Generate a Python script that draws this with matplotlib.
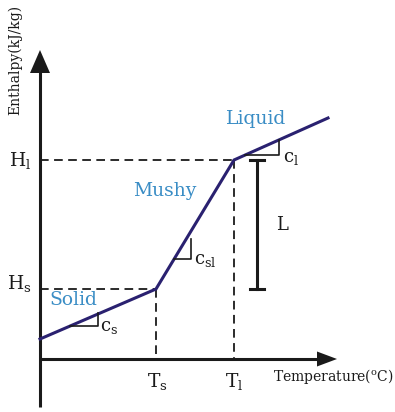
import matplotlib
matplotlib.use("Agg")
import matplotlib.pyplot as plt

plt.rcParams["font.family"] = ["DejaVu Serif"]
plt.rcParams["mathtext.fontset"] = "custom"
plt.rcParams["mathtext.rm"] = "DejaVu Serif"
plt.rcParams["mathtext.it"] = "DejaVu Serif:italic"

# schematic enthalpy-temperature curve (arbitrary units, origin at axes crossing)
temperature = [0, 116, 194, 288]
enthalpy = [20, 70, 199, 241]
T_s, T_l = temperature[1], temperature[2]
H_s, H_l = enthalpy[1], enthalpy[2]
phase_labels = ["Solid", "Mushy", "Liquid"]

LINE = "#2a2170"
BLUE = "#3a8dc5"
INK = "#1a1a1a"

fig = plt.figure(figsize=(3.95, 4.12), dpi=100)
ax = fig.add_axes([0, 0, 1, 1])
ax.set_xlim(-40, 355)
ax.set_ylim(-53, 359)
ax.axis("off")

# axes with arrowheads
y_bottom, y_top, x_right = -48, 309, 297
ax.plot([0, 0], [y_bottom, y_top - 20], color=INK, lw=2.2, solid_capstyle="butt")
ax.fill([-10, 10, 0], [y_top - 23, y_top - 23, y_top], color=INK, lw=0)
ax.plot([0, x_right - 18], [0, 0], color=INK, lw=2.2, solid_capstyle="butt")
ax.fill([x_right - 20, x_right - 20, x_right], [-7.5, 7.5, 0], color=INK, lw=0)

# dashed guides
dash = dict(color=INK, lw=1.3, dashes=(4.8, 3))
ax.plot([0, T_s], [H_s, H_s], **dash)
ax.plot([T_s, T_s], [H_s, 0], **dash)
ax.plot([0, T_l], [H_l, H_l], **dash)
ax.plot([T_l, T_l], [H_l, 0], **dash)

# enthalpy curve
ax.plot(temperature, enthalpy, color=LINE, lw=2.2, solid_joinstyle="miter")


def slope_mark(x0, run, rise):
    # find y on the curve at x0
    for i in range(len(temperature) - 1):
        if temperature[i] <= x0 <= temperature[i + 1]:
            s = (enthalpy[i + 1] - enthalpy[i]) / (temperature[i + 1] - temperature[i])
            y0 = enthalpy[i] + s * (x0 - temperature[i])
    ax.plot([x0, x0 + run, x0 + run], [y0, y0, y0 + rise], color=INK, lw=1.2)
    return x0 + run, y0


xs, ys = slope_mark(30, 28, 13)
ax.text(xs + 2, ys - 1, r"$\mathrm{c_s}$", fontsize=13, color=INK, ha="left", va="center")
xsl, ysl = slope_mark(134, 17, 20)
ax.text(xsl + 3, ysl - 1, r"$\mathrm{c_{sl}}$", fontsize=13, color=INK, ha="left", va="center")
xl, yl = slope_mark(205, 34, 15)
ax.text(xl + 4, yl - 3, r"$\mathrm{c_l}$", fontsize=13, color=INK, ha="left", va="center")

# latent heat bar
xL = 217
ax.plot([xL, xL], [H_l, H_s], color=INK, lw=2.2)
ax.plot([xL - 7, xL + 7], [H_l, H_l], color=INK, lw=2.2)
ax.plot([xL - 7, xL + 7], [H_s, H_s], color=INK, lw=2.2)
ax.text(xL + 25, (H_l + H_s) / 2, "L", fontsize=13, color=INK, ha="center", va="center")

# phase labels
ax.text(33, 59, phase_labels[0], fontsize=13.5, color=BLUE, ha="center", va="center")
ax.text(125, 168, phase_labels[1], fontsize=13.5, color=BLUE, ha="center", va="center")
ax.text(216, 240, phase_labels[2], fontsize=13.5, color=BLUE, ha="center", va="center")

# tick labels
ax.text(-20, H_l, r"$\mathrm{H_l}$", fontsize=13.5, color=INK, ha="center", va="center")
ax.text(-21, H_s + 5, r"$\mathrm{H_s}$", fontsize=13.5, color=INK, ha="center", va="center")
ax.text(T_s + 1, -22, r"$\mathrm{T_s}$", fontsize=13.5, color=INK, ha="center", va="center")
ax.text(T_l, -22, r"$\mathrm{T_l}$", fontsize=13.5, color=INK, ha="center", va="center")

# axis titles
ax.text(233, -18, r"Temperature($\mathrm{^oC}$)", fontsize=10, color=INK, ha="left", va="center")
ax.text(-25, 299, "Enthalpy(kJ/kg)", fontsize=10, color=INK, rotation=90,
        ha="center", va="center")

fig.savefig("out.png", dpi=100)
